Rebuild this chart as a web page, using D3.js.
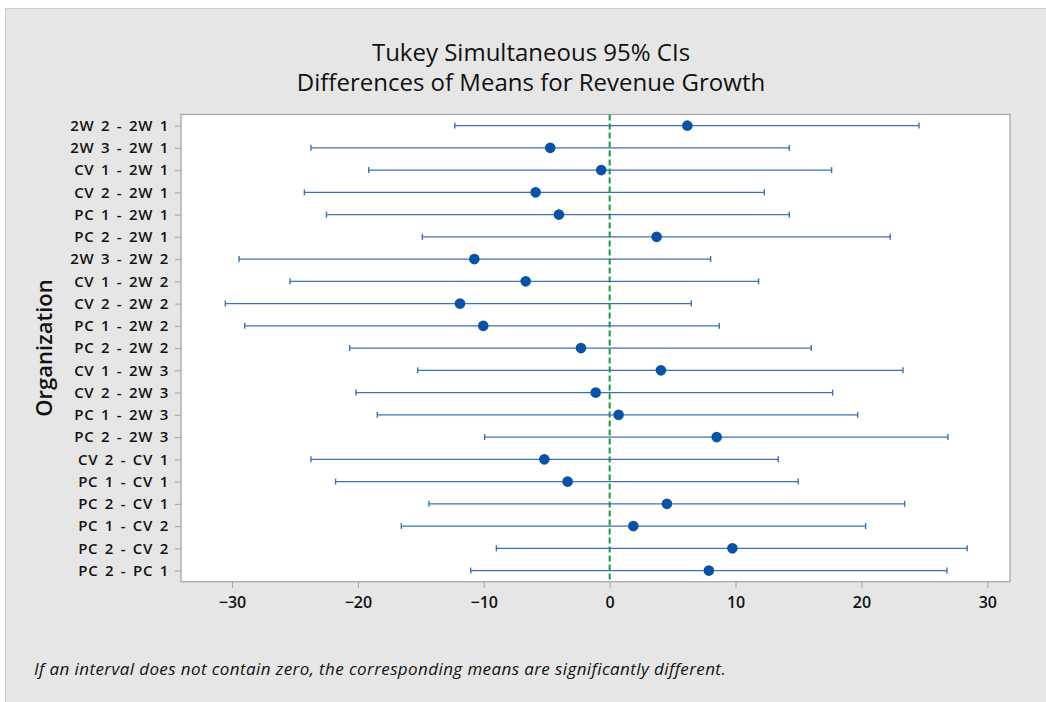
<!DOCTYPE html>
<html>
<head>
<meta charset="utf-8">
<script src="https://cdn.jsdelivr.net/npm/d3@7"></script>
<style>
  body{margin:0;background:#fff;}
  text{font-family:"Open Sans","Noto Sans",sans-serif;fill:#111;}
</style>
</head>
<body>
<div id="chart"></div>
<script>
// comparisons, top to bottom
let pairs=['2W 2 - 2W 1','2W 3 - 2W 1','CV 1 - 2W 1','CV 2 - 2W 1','PC 1 - 2W 1','PC 2 - 2W 1',
  '2W 3 - 2W 2','CV 1 - 2W 2','CV 2 - 2W 2','PC 1 - 2W 2','PC 2 - 2W 2',
  'CV 1 - 2W 3','CV 2 - 2W 3','PC 1 - 2W 3','PC 2 - 2W 3',
  'CV 2 - CV 1','PC 1 - CV 1','PC 2 - CV 1','PC 1 - CV 2','PC 2 - CV 2','PC 2 - PC 1']
let means=[6.17,-4.72,-0.67,-5.88,-4.03,3.73,-10.75,-6.67,-11.89,-10.04,-2.28,
  4.07,-1.11,0.71,8.5,-5.19,-3.34,4.55,1.88,9.75,7.88]
let lower=[-12.3,-23.73,-19.14,-24.25,-22.5,-14.88,-29.44,-25.39,-30.53,-28.99,-20.65,
  -15.25,-20.15,-18.46,-9.93,-23.73,-21.77,-14.35,-16.55,-9.0,-11.04]
let upper=[24.57,14.27,17.63,12.28,14.27,22.29,8.02,11.83,6.48,8.71,16.01,
  23.3,17.71,19.7,26.87,13.39,14.98,23.43,20.33,28.4,26.79]
let xticks=[-30,-20,-10,0,10,20,30]

let w=1046,h=702
let pLeft=181,pRight=1010,pTop=114.5,pBottom=581.7
let svg=d3.select('#chart').append('svg').attr('width',w).attr('height',h)

svg.append('rect').attr('x',5.5).attr('y',8.5).attr('width',w).attr('height',h)
  .attr('fill','#e6e6e6').attr('stroke','#cfcfcf')

let xScale=d3.scaleLinear().domain([-34.05,31.8]).range([pLeft,pRight])
let yScale=d3.scalePoint().domain(pairs).range([pTop,pBottom]).padding(0.5)

svg.append('rect').attr('x',pLeft).attr('y',pTop).attr('width',pRight-pLeft).attr('height',pBottom-pTop)
  .attr('fill','#fff').attr('stroke','#a3a3a3').attr('stroke-width',1.2)

// titles
svg.append('text').text('Tukey Simultaneous 95% CIs').attr('x',531).attr('y',61)
  .attr('text-anchor','middle').style('font-size','24px').style('font-weight','500')
svg.append('text').text('Differences of Means for Revenue Growth').attr('x',531).attr('y',91)
  .attr('text-anchor','middle').style('font-size','24px').style('font-weight','500')

// axes
let xAxis=d3.axisBottom(xScale).tickValues(xticks).tickSize(6).tickPadding(9).tickFormat(d3.format('d'))
let gx=svg.append('g').attr('transform','translate(0,'+pBottom+')').call(xAxis)
gx.select('.domain').remove()
gx.selectAll('line').attr('stroke','#a3a3a3')
gx.selectAll('text').style('font-size','16px').style('font-weight','600').style('font-family','"Open Sans",sans-serif')

let yAxis=d3.axisLeft(yScale).tickSize(6).tickPadding(6)
let gy=svg.append('g').attr('transform','translate('+pLeft+',0)').call(yAxis)
gy.select('.domain').remove()
gy.selectAll('line').attr('stroke','#a3a3a3')
gy.selectAll('text').style('font-size','15px').style('font-weight','600').style('font-family','"Open Sans",sans-serif')
  .style('letter-spacing','0.7px').style('word-spacing','2px')

svg.append('text').text('Organization').attr('transform','translate(52,348) rotate(-90)')
  .attr('text-anchor','middle').style('font-size','22px').style('font-weight','600')

// zero line
svg.append('line').attr('x1',xScale(0)).attr('x2',xScale(0)).attr('y1',pTop).attr('y2',pBottom)
  .attr('stroke','#159a3c').attr('stroke-width',2).attr('stroke-dasharray','6,3')

// intervals
let rows=svg.append('g').selectAll('g').data(pairs).enter().append('g')
rows.append('line').attr('x1',(d,i)=>xScale(lower[i])).attr('x2',(d,i)=>xScale(upper[i]))
  .attr('y1',d=>yScale(d)).attr('y2',d=>yScale(d)).attr('stroke','#3a72b8').attr('stroke-width',1.4)
rows.append('line').attr('x1',(d,i)=>xScale(lower[i])).attr('x2',(d,i)=>xScale(lower[i]))
  .attr('y1',d=>yScale(d)-3).attr('y2',d=>yScale(d)+3).attr('stroke','#3a72b8').attr('stroke-width',1.4)
rows.append('line').attr('x1',(d,i)=>xScale(upper[i])).attr('x2',(d,i)=>xScale(upper[i]))
  .attr('y1',d=>yScale(d)-3).attr('y2',d=>yScale(d)+3).attr('stroke','#3a72b8').attr('stroke-width',1.4)
rows.append('circle').attr('cx',(d,i)=>xScale(means[i])).attr('cy',d=>yScale(d)).attr('r',5.3)
  .attr('fill','#0a52a5')

svg.append('text').text('If an interval does not contain zero, the corresponding means are significantly different.')
  .attr('x',34).attr('y',675).style('font-size','17px').style('font-style','italic').style('letter-spacing','0.4px')
</script>
</body>
</html>
